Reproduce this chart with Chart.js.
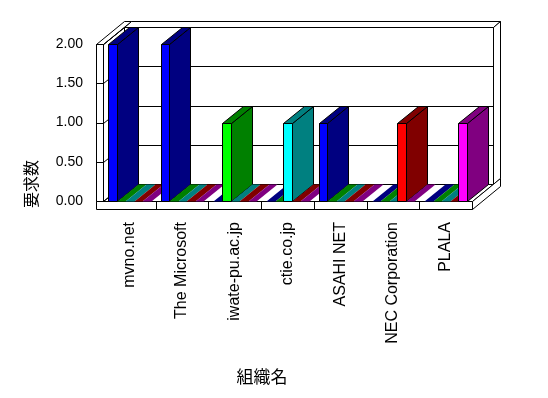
<!DOCTYPE html>
<html>
<head>
<meta charset="utf-8">
<script src="https://cdn.jsdelivr.net/npm/chart.js@4"></script>
<style>
html,body{margin:0;padding:0;background:#fff;}
#wrap{width:548px;height:398px;}
</style>
</head>
<body>
<div id="wrap"><canvas id="c" width="548" height="398"></canvas></div>
<script>
const categories = ["mvno.net","The Microsoft","iwate-pu.ac.jp","ctie.co.jp","ASAHI NET","NEC Corporation","PLALA"];
const series1 = [2, 2, 0, 0, 1, 0, 0];
const series2 = [0, 0, 1, 0, 0, 0, 0];
const series3 = [0, 0, 0, 1, 0, 0, 0];
const series4 = [0, 0, 0, 0, 0, 1, 0];
const series5 = [0, 0, 0, 0, 0, 0, 1];
const seriesNames = ["系列1","系列2","系列3","系列4","系列5"];
const yTicks = [0, 0.5, 1, 1.5, 2];
const yTitle = "要求数";
const xTitle = "組織名";

const frontColors = ["#0000FF","#00FF00","#00FFFF","#FF0000","#FF00FF"];
const darkColors  = ["#000080","#008000","#008080","#800000","#800080"];

const DEPTH = 21, KY = 17/21, WALL = 7, FLOOR = 8;

function P(x, y, z){ return [x + z, y - z*KY]; }
function poly(ctx, pts, fill, stroke){
  ctx.beginPath();
  pts.forEach((p,i)=>{ const x=Math.round(p[0])+0.5, y=Math.round(p[1])+0.5; if(i===0) ctx.moveTo(x,y); else ctx.lineTo(x,y); });
  ctx.closePath();
  if (fill){ ctx.fillStyle = fill; ctx.fill(); }
  if (stroke){ ctx.strokeStyle = stroke; ctx.lineWidth = 1; ctx.stroke(); }
}
function line(ctx, a, b){
  ctx.beginPath();
  ctx.moveTo(Math.round(a[0])+0.5, Math.round(a[1])+0.5);
  ctx.lineTo(Math.round(b[0])+0.5, Math.round(b[1])+0.5);
  ctx.strokeStyle = "#000"; ctx.lineWidth = 1; ctx.stroke();
}

const threeD = {
  id: 'threeD',
  beforeDatasetsDraw(chart){
    const ctx = chart.ctx, ca = chart.chartArea;
    const L = ca.left, R = ca.right, T = ca.top, B = ca.bottom;
    const ys = chart.scales.y, xs = chart.scales.x;
    ctx.save();
    poly(ctx, [P(L-WALL,B,0), P(R,B,0), P(R,B,DEPTH+WALL), P(L-WALL,B,DEPTH+WALL)], "#fff", "#000");
    poly(ctx, [P(L,T,DEPTH), P(R,T,DEPTH), P(R,B,DEPTH), P(L,B,DEPTH)], "#fff", "#000");
    poly(ctx, [P(L,T,DEPTH), P(R,T,DEPTH), P(R,T,DEPTH+WALL), P(L,T,DEPTH+WALL)], "#fff", "#000");
    poly(ctx, [P(R,T,DEPTH), P(R,T,DEPTH+WALL), P(R,B,DEPTH+WALL), P(R,B,DEPTH)], "#fff", "#000");
    poly(ctx, [P(L,T,0), P(L,T,DEPTH), P(L,B,DEPTH), P(L,B,0)], "#fff", "#000");
    poly(ctx, [P(L-WALL,T,0), P(L,T,0), P(L,T,DEPTH+WALL), P(L-WALL,T,DEPTH+WALL)], "#fff", "#000");
    poly(ctx, [[L-WALL,T],[L,T],[L,B],[L-WALL,B]], "#fff", "#000");
    yTicks.forEach(v=>{
      const y = ys.getPixelForValue(v);
      line(ctx, P(L,y,DEPTH), P(R,y,DEPTH));
      line(ctx, P(L,y,0), P(L,y,DEPTH));
      line(ctx, [L-WALL,y], [L,y]);
    });
    poly(ctx, [[L-WALL,B],[R,B],[R,B+FLOOR],[L-WALL,B+FLOOR]], "#fff", "#000");
    poly(ctx, [P(R,B,0), P(R,B+FLOOR,0), P(R,B+FLOOR,DEPTH+WALL), P(R,B,DEPTH+WALL)], "#fff", "#000");
    for (let i = 0; i < categories.length - 1; i++){
      const xb = (xs.getPixelForValue(i) + xs.getPixelForValue(i+1)) / 2;
      line(ctx, [xb,B], [xb,B+FLOOR]);
    }
    const bars = [];
    chart.data.datasets.forEach((ds, di)=>{
      const meta = chart.getDatasetMeta(di);
      meta.data.forEach(el=>{
        const p = el.getProps(['x','y','base','width'], true);
        bars.push({l: p.x - p.width/2, r: p.x + p.width/2, top: Math.min(p.y,p.base), bot: Math.max(p.y,p.base), di});
      });
    });
    bars.sort((a,b)=>a.l-b.l);
    bars.forEach(b=>{
      const f = frontColors[b.di], d = darkColors[b.di];
      if (b.bot - b.top > 1){
        poly(ctx, [P(b.r,b.top,0), P(b.r,b.top,DEPTH), P(b.r,b.bot,DEPTH), P(b.r,b.bot,0)], d, "#000");
        poly(ctx, [P(b.l,b.top,0), P(b.r,b.top,0), P(b.r,b.top,DEPTH), P(b.l,b.top,DEPTH)], d, "#000");
        poly(ctx, [[b.l,b.top],[b.r,b.top],[b.r,b.bot],[b.l,b.bot]], f, "#000");
      } else {
        poly(ctx, [P(b.l,b.bot,0), P(b.r,b.bot,0), P(b.r,b.bot,DEPTH), P(b.l,b.bot,DEPTH)], d, null);
      }
    });
    ctx.restore();
  },
  afterDraw(chart){
    const ctx = chart.ctx;
    ctx.save();
    ctx.fillStyle = "#000";
    ctx.textAlign = "center";
    ctx.textBaseline = "middle";
    ctx.font = "16px 'Noto Sans CJK JP'";
    ctx.translate(31, 184);
    ctx.rotate(-Math.PI/2);
    ctx.fillText(yTitle, 0, 0);
    ctx.restore();
    ctx.save();
    ctx.fillStyle = "#000";
    ctx.textAlign = "center";
    ctx.textBaseline = "middle";
    ctx.font = "17px 'Noto Sans CJK JP'";
    ctx.fillText(xTitle, 262, 377);
    ctx.restore();
  }
};

const allSeries = [series1, series2, series3, series4, series5];
new Chart(document.getElementById('c'), {
  type: 'bar',
  data: {
    labels: categories,
    datasets: allSeries.map((s,i)=>({
      label: seriesNames[i],
      data: s,
      backgroundColor: 'rgba(0,0,0,0)',
      borderWidth: 0,
      categoryPercentage: 0.81,
      barPercentage: 1.0
    }))
  },
  options: {
    responsive: false,
    animation: false,
    events: [],
    layout: { padding: { top: 44, right: 76, left: 0, bottom: 0 } },
    plugins: { legend: { display: false }, tooltip: { enabled: false }, title: { display: false } },
    scales: {
      x: {
        grid: { display: false, drawTicks: false },
        border: { display: false },
        ticks: { autoSkip: false, maxRotation: 90, minRotation: 90, padding: 21, color: '#000',
                 font: { family: "'Liberation Sans', Arial, sans-serif", size: 16 } },
        afterFit(scale){ scale.height = 197; }
      },
      y: {
        min: 0, max: 2,
        grid: { display: false, drawTicks: false },
        border: { display: false },
        afterBuildTicks(scale){ scale.ticks = yTicks.map(v=>({value:v})); },
        ticks: { padding: 20, color: '#000',
                 font: { family: "'Liberation Sans', Arial, sans-serif", size: 14 },
                 callback: v => Number(v).toFixed(2) },
        afterFit(scale){ scale.width = 103; }
      }
    }
  },
  plugins: [threeD]
});
</script>
</body>
</html>
